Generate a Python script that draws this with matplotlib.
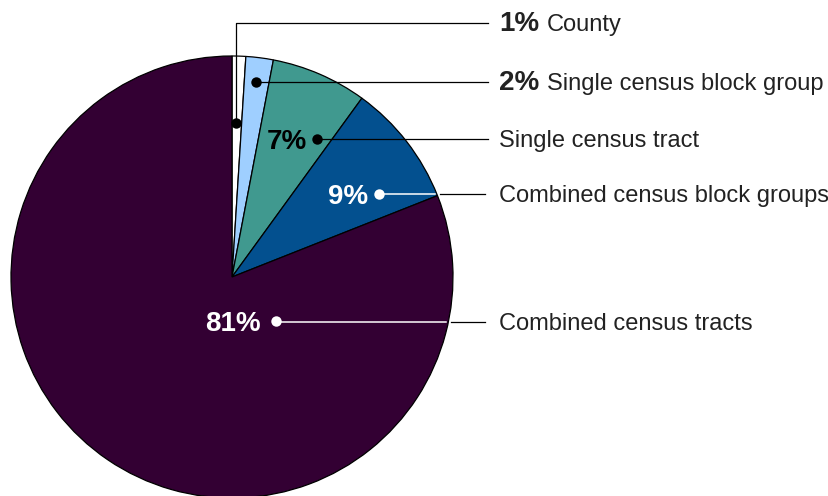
import numpy as np
import matplotlib.pyplot as plt

plt.rcParams['font.family'] = ['Liberation Sans', 'DejaVu Sans']

# share of records by geography level
labels = ['County', 'Single census block group', 'Single census tract',
          'Combined census block groups', 'Combined census tracts']
values = [1, 2, 7, 9, 81]
colors = ['#ffffff', '#9fcfff', '#40998f', '#03508f', '#330033']

W, H = 829, 496
cx, cy, r = 232, 277, 221          # pie centre / radius in pixels from top-left

def Y(y):
    return H - y

fig = plt.figure(figsize=(W / 100, H / 100), dpi=100)
ax = fig.add_axes([0, 0, 1, 1])

ax.pie(values, colors=colors, startangle=90, counterclock=False,
       center=(cx, Y(cy)), radius=r,
       wedgeprops=dict(edgecolor='black', linewidth=0.9))
ax.set_xlim(0, W)
ax.set_ylim(0, H)
ax.set_aspect('equal')
ax.axis('off')

def edge_x(y):
    return cx + np.sqrt(r**2 - (y - cy)**2)

text_x = 499
row_y = [23, 82, 139, 194, 322]
dots = [(236, 123), (256, 82), (317, 139), (379, 194), (276, 321)]
pct_gap = [0, 0, 10, 11, 15]       # space between in-pie label and its dot
pct_color = [None, None, 'black', 'white', 'white']
line_end = 488

renderer = fig.canvas.get_renderer()
for i, lab in enumerate(labels):
    dx, dy = dots[i]
    ry = row_y[i]
    # leader line
    if i == 0:
        ax.plot([dx, dx, line_end], [Y(dy), Y(ry), Y(ry)], color='black', lw=0.9)
    elif pct_color[i] == 'white':
        ex = edge_x(ry)
        ax.plot([dx, ex - 2], [Y(ry), Y(ry)], color='white', lw=1.1)
        ax.plot([ex + 3, line_end - 3], [Y(ry), Y(ry)], color='black', lw=0.9)
    else:
        ax.plot([dx, line_end], [Y(ry), Y(ry)], color='black', lw=0.9)
    dot_c = 'white' if pct_color[i] == 'white' else 'black'
    ax.plot(dx, Y(dy), 'o', color=dot_c, markersize=7.5, markeredgewidth=0)

    pct = f'{values[i]}%'
    if pct_color[i] is not None:
        ax.text(dx - pct_gap[i], Y(dy + 10), pct, ha='right', va='baseline',
                fontsize=20, fontweight='bold', color=pct_color[i])
        ax.text(text_x, Y(ry + 8), lab, ha='left', va='baseline',
                fontsize=17, color='#222222')
    else:
        t = ax.text(text_x, Y(ry + 8), pct, ha='left', va='baseline',
                    fontsize=20, fontweight='bold', color='#222222')
        w = t.get_window_extent(renderer).width
        ax.text(text_x + w + 8, Y(ry + 8), lab, ha='left', va='baseline',
                fontsize=17, color='#222222')

plt.savefig('out.png', dpi=100)
